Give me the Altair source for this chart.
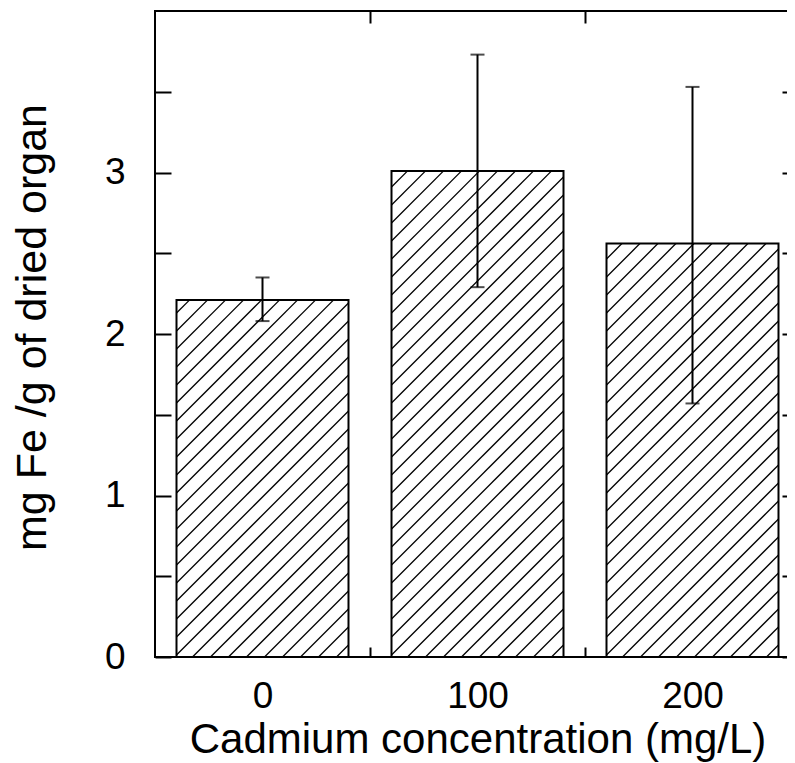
import math
import altair as alt
import pandas as pd

# ---- data ----
conc = [0, 100, 200]
mean = [2.21, 3.01, 2.56]
err_low = [2.08, 2.29, 1.57]
err_high = [2.35, 3.73, 3.53]
x_tick_labels = [0, 100, 200]
y_tick_values = [0, 0.5, 1, 1.5, 2, 2.5, 3, 3.5]

# ---- layout / style constants ----
W, H = 645, 646
X_DOM = [-50, 250]
Y_DOM = [0, 4]
HALF = 40          # half bar width in x units
SPACING = 18       # hatch spacing (px)
PHASE = 16
FONT = "Liberation Sans"

df = pd.DataFrame({"conc": conc, "mean": mean, "lo": err_low, "hi": err_high})
df["x0"] = df["conc"] - HALF
df["x1"] = df["conc"] + HALF

caps = pd.DataFrame({"conc": conc + conc, "v": err_low + err_high})

# hatch segments (45 degree "/" lines) clipped to each bar
kx = W / (X_DOM[1] - X_DOM[0])
ky = H / (Y_DOM[1] - Y_DOM[0])
rows = []
for c, m in zip(conc, mean):
    w = 2 * HALF * kx
    h = m * ky
    kmin = math.floor((-h - PHASE) / SPACING) - 1
    kmax = math.ceil((w - PHASE) / SPACING) + 1
    for k in range(kmin, kmax + 1):
        cc = PHASE + k * SPACING
        xa = max(0.0, cc)
        xb = min(w, cc + h)
        if xb - xa > 0.5:
            rows.append({
                "hx0": c - HALF + xa / kx, "hy0": (xa - cc) / ky,
                "hx1": c - HALF + xb / kx, "hy1": (xb - cc) / ky,
            })
hatch_df = pd.DataFrame(rows)

xs = alt.Scale(domain=X_DOM, nice=False, zero=False)
ys = alt.Scale(domain=Y_DOM, nice=False, zero=False)

step_px = 100 * kx / 2  # half category spacing in px

bottom_axis = alt.Axis(
    orient="bottom", values=x_tick_labels, offset=-10, tickSize=10,
    tickOffset=step_px, labelOffset=-step_px,
    labelFontSize=37, labelPadding=50, labelBaseline="alphabetic",
    title="Cadmium concentration (mg/L)", titleFontSize=42,
    titleBaseline="alphabetic", titleX=W / 2, titleY=105, titleAlign="center",
)
left_axis = alt.Axis(
    orient="left", values=y_tick_values, offset=-16, tickSize=16,
    labelExpr="datum.value % 1 == 0 ? format(datum.value, 'd') : ''",
    labelFontSize=37, labelPadding=30, labelBaseline="middle",
    title="mg Fe /g of dried organ", titleFontSize=43, titleAngle=270,
    titleBaseline="bottom", titleAlign="center", titleX=-117, titleY=316,
    titleLimit=700,
)
top_axis = alt.Axis(
    orient="top", values=[0, 100], offset=-12, tickSize=12,
    tickOffset=step_px, labels=False, title=None,
)
right_axis = alt.Axis(
    orient="right", values=y_tick_values, offset=-18, tickSize=18,
    labels=False, title=None,
)

fill = alt.Chart(df).mark_rect(fill="white").encode(
    x=alt.X("x0:Q", scale=xs, axis=bottom_axis),
    x2="x1:Q",
    y=alt.Y("mean:Q", scale=ys, axis=left_axis),
    y2=alt.datum(0),
)

hatch = alt.Chart(hatch_df).mark_rule(color="black", strokeWidth=1.3).encode(
    x=alt.X("hx0:Q", scale=xs, axis=None),
    x2="hx1:Q",
    y=alt.Y("hy0:Q", scale=ys, axis=None),
    y2="hy1:Q",
)

outline = alt.Chart(df).mark_rect(fillOpacity=0, stroke="black", strokeWidth=2).encode(
    x=alt.X("x0:Q", scale=xs, axis=None),
    x2="x1:Q",
    y=alt.Y("mean:Q", scale=ys, axis=None),
    y2=alt.datum(0),
)

err = alt.Chart(df).mark_rule(color="black", strokeWidth=2).encode(
    x=alt.X("conc:Q", scale=xs, axis=top_axis),
    y=alt.Y("lo:Q", scale=ys, axis=right_axis),
    y2="hi:Q",
)

cap = alt.Chart(caps).mark_tick(orient="horizontal", size=14, thickness=2, color="black").encode(
    x=alt.X("conc:Q", scale=xs, axis=None),
    y=alt.Y("v:Q", scale=ys, axis=None),
)

chart = (
    alt.layer(fill, hatch, outline, err, cap)
    .resolve_scale(x="independent", y="independent")
    .properties(
        width=W, height=H,
        padding={"left": 147, "top": 3, "right": -13, "bottom": 106},
        autosize=alt.AutoSizeParams(type="none"),
    )
    .configure_view(stroke="black", strokeWidth=2)
    .configure_axis(
        grid=False, domain=False, tickColor="black", tickWidth=2,
        labelFont=FONT, titleFont=FONT, labelColor="black", titleColor="black",
        titleFontWeight="normal",
    )
)

chart.save("out.html", embed_options={"renderer": "svg", "actions": False})
